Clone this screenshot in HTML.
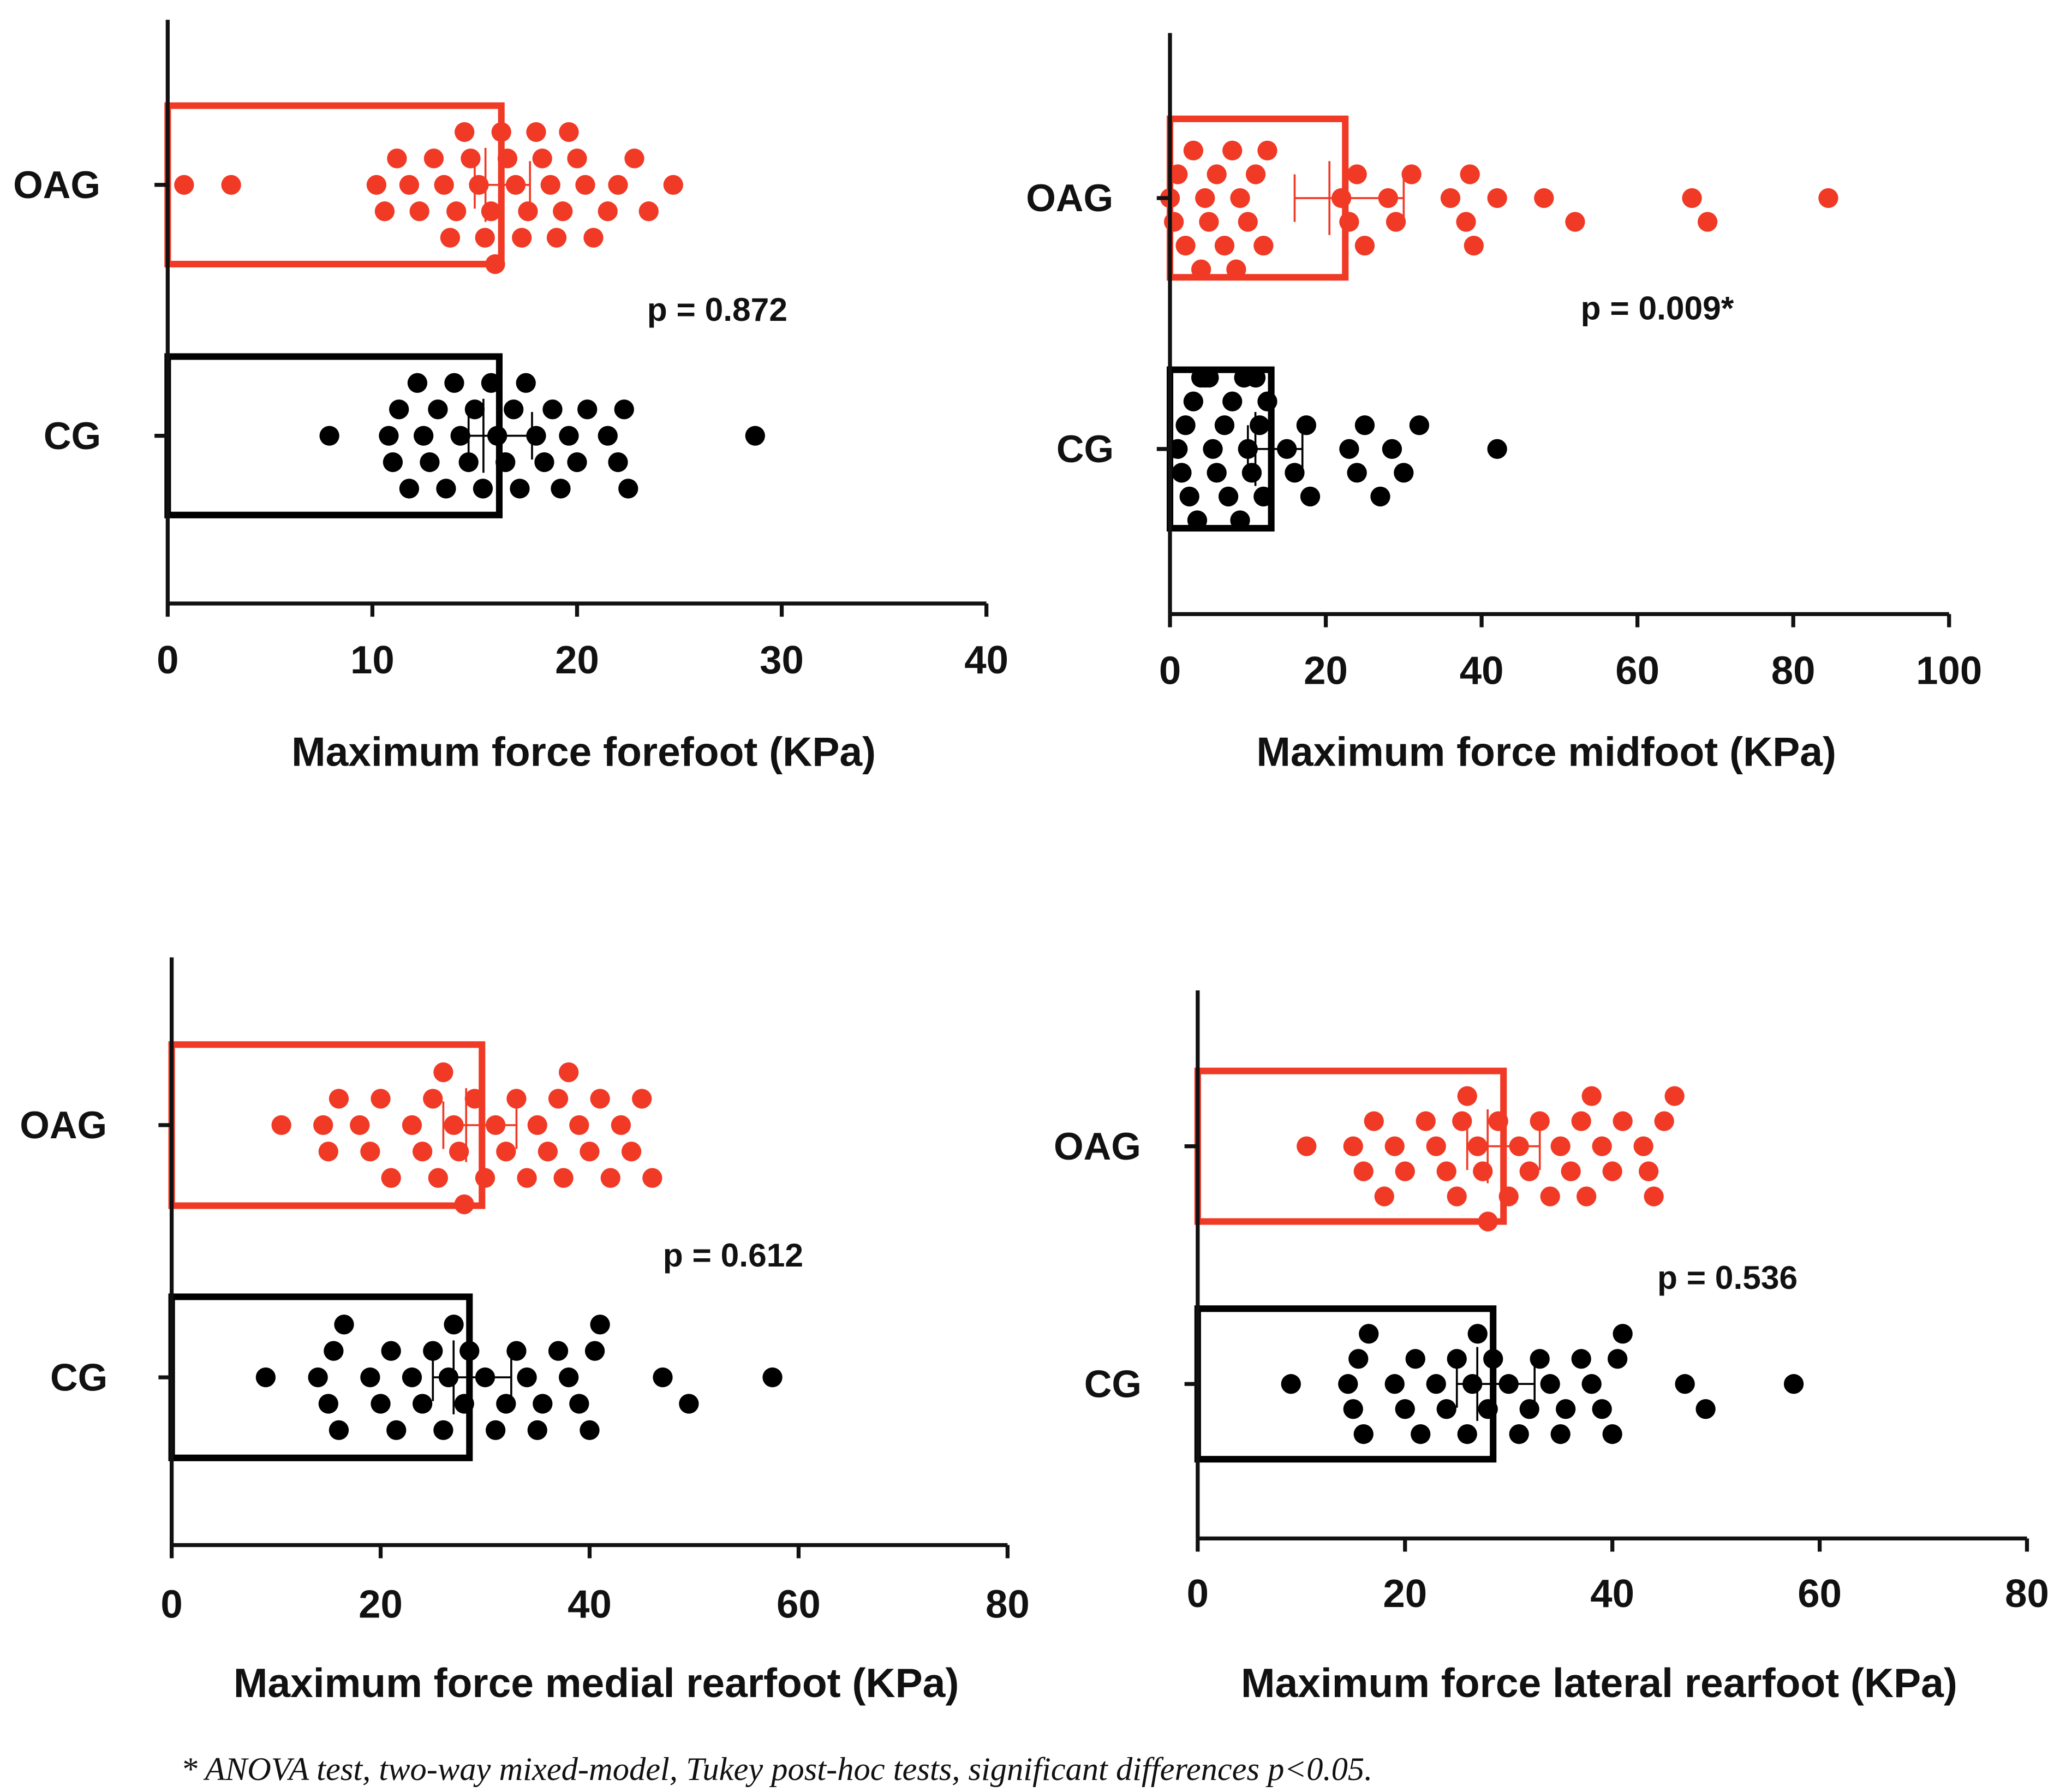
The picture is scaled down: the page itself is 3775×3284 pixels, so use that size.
<!DOCTYPE html>
<html><head><meta charset="utf-8"><style>
html,body{margin:0;padding:0;background:#fff}
svg{display:block}
text{font-family:"Liberation Sans",Arial,sans-serif;font-weight:bold;fill:#111}
</style></head><body>
<svg id="chart" width="3775" height="3284" viewBox="0 0 1560 1357" preserveAspectRatio="none" xmlns="http://www.w3.org/2000/svg">
<text x="137" y="1348" style="font-family:'Liberation Serif',serif;font-style:italic;font-weight:normal;font-size:25px">* ANOVA test, two-way mixed-model, Tukey post-hoc tests, significant differences p&lt;0.05.</text>
</svg>
<script>
// ---- data ----
const categories = ["OAG","CG"];
const titles = ["Maximum force forefoot (KPa)","Maximum force midfoot (KPa)","Maximum force medial rearfoot (KPa)","Maximum force lateral rearfoot (KPa)"];
const pLabels = ["p = 0.872","p = 0.009*","p = 0.612","p = 0.536"];
const xTicks1 = [0,10,20,30,40];
const xTicks2 = [0,20,40,60,80,100];
const xTicks3 = [0,20,40,60,80];
const xTicks4 = [0,20,40,60,80];
const means1 = [16.3,16.2], err1 = [[15,17.7],[14.7,17.8]];
const means2 = [22.5,13], err2 = [[16,30],[10,17]];
const means3 = [29.7,28.5], err3 = [[26,33],[25,32.5]];
const means4 = [29.5,28.5], err4 = [[26,33],[25,32.5]];
const oag1 = [0.8,3.1,10.2,10.6,11.2,11.8,12.3,13,13.5,13.8,14.1,14.5,14.8,15.2,15.5,15.8,16,16.3,16.6,17,17.3,17.6,18,18.3,18.7,19,19.3,19.6,20,20.4,20.8,21.5,22,22.8,23.5,24.7];
const cg1 = [7.9,10.8,11,11.3,11.8,12.2,12.5,12.8,13.2,13.6,14,14.3,14.7,15,15.4,15.8,16.1,16.5,16.9,17.2,17.5,18,18.4,18.8,19.2,19.6,20,20.5,21.5,22,22.3,22.5,28.7];
const oag2 = [0,0.5,1,2,3,4,4.5,5,6,7,8,8.5,9,10,11,12,12.5,22,23,24,25,28,29,31,36,38,38.5,39,42,48,52,67,69,84.5];
const cg2 = [1,1.5,2,2.5,3,3.5,4,4.5,5,5.5,6,7,7.5,8,9,9.5,10,10.5,11,11.5,12,12.5,15,16,17.5,18,23,24,25,27,28.5,30,32,42];
const oag3 = [10.5,14.5,15,16,18,19,20,21,23,24,25,25.5,26,27,27.5,28,29,30,31,32,33,34,35,36,37,37.5,38,39,40,41,42,43,44,45,46];
const cg3 = [9,14,15,15.5,16,16.5,19,20,21,21.5,23,24,25,26,26.5,27,28,28.5,30,31,32,33,34,35,35.5,37,38,39,40,40.5,41,47,49.5,57.5];
const oag4 = [10.5,15,16,17,18,19,20,22,23,24,25,25.5,26,27,27.5,28,29,30,31,32,33,34,35,36,37,37.5,38,39,40,41,43,43.5,44,45,46];
const cg4 = [9,14.5,15,15.5,16,16.5,19,20,21,21.5,23,24,25,26,26.5,27,28,28.5,30,31,32,33,34,35,35.5,37,38,39,40,40.5,41,47,49,57.5];

const NS="http://www.w3.org/2000/svg";
const svg=document.getElementById('chart');
function mk(tag,attrs,parent){const e=document.createElementNS(NS,tag);for(const k in attrs)e.setAttribute(k,attrs[k]);(parent||svg).appendChild(e);return e;}

const panels=[
 {x0:127,x1:747,max:40,top:15,base:457,rows:[140,330],half:60,step:20,ticks:xTicks1,means:means1,err:err1,data:[oag1,cg1],p:[490,243],tickY:510,titleY:580,labX:[10,33]},
 {x0:886,x1:1476,max:100,top:25,base:465,rows:[150,340],half:60,step:18,ticks:xTicks2,means:means2,err:err2,data:[oag2,cg2],p:[1197,242],tickY:518,titleY:580,labX:[777,800]},
 {x0:130,x1:763,max:80,top:725,base:1170,rows:[852,1043],half:61,step:20,ticks:xTicks3,means:means3,err:err3,data:[oag3,cg3],p:[502,959],tickY:1225,titleY:1285,labX:[15,38]},
 {x0:907,x1:1535,max:80,top:750,base:1165,rows:[868,1048],half:57,step:19,ticks:xTicks4,means:means4,err:err4,data:[oag4,cg4],p:[1255,976],tickY:1217,titleY:1285,labX:[798,821]}
];
const colors=["#f03a26","#000"];
panels.forEach((P,pi)=>{
 const g=mk('g',{});
 
 
 const sx=v=>P.x0+(P.x1-P.x0)*v/P.max;
 P.rows.forEach((cy,ri)=>{
  const b=mk('rect',{x:P.x0,y:cy-P.half,width:sx(P.means[ri])-P.x0,height:2*P.half,fill:'none',stroke:colors[ri],'stroke-width':5},g);
  
  
  const vals=P.data[ri].slice().sort((a,b)=>a-b);const placed=[];const step=P.step;
  vals.forEach(v=>{
   const x=sx(v);let off=0;
   const order=[0,1,-1,2,-2,3,-3];
   for(const o of order){if(!placed.some(p=>p.o===o&&Math.abs(p.x-x)<24)){off=o;break;}off=o;}
   placed.push({x,o:off});
   const c=mk('circle',{cx:x,cy:cy+off*step,r:7.5,fill:colors[ri]},g);
   
   
  });
  const e=P.err[ri];
  mk('line',{x1:sx(e[0]),x2:sx(e[1]),y1:cy,y2:cy,stroke:colors[ri],'stroke-width':1.5},g);
  mk('line',{x1:sx(e[0]),x2:sx(e[0]),y1:cy-18,y2:cy+18,stroke:colors[ri],'stroke-width':1.5},g);
  mk('line',{x1:sx(e[1]),x2:sx(e[1]),y1:cy-18,y2:cy+18,stroke:colors[ri],'stroke-width':1.5},g);
  mk('line',{x1:sx(P.means[ri])-12,x2:sx(P.means[ri])-12,y1:cy-28,y2:cy+28,stroke:colors[ri],'stroke-width':1.5},g);
  mk('line',{x1:P.x0-10,x2:P.x0,y1:cy,y2:cy,stroke:'#111','stroke-width':3},g);
  const t=mk('text',{x:P.labX[ri],y:cy+10,'font-size':29},g);t.textContent=categories[ri];
  
  
 });
 mk('line',{x1:P.x0,x2:P.x0,y1:P.top,y2:P.base,stroke:'#111','stroke-width':3},g);
 mk('line',{x1:P.x0,x2:P.x1,y1:P.base,y2:P.base,stroke:'#111','stroke-width':3},g);
 P.ticks.forEach(tv=>{
  const x=sx(tv);
  mk('line',{x1:x,x2:x,y1:P.base,y2:P.base+10,stroke:'#111','stroke-width':3},g);
  const t=mk('text',{x:x,y:P.tickY,'font-size':30,'text-anchor':'middle'},g);t.textContent=tv;
  
  
 });
 const tt=mk('text',{x:(P.x0+P.x1)/2+(pi%2?-10:5),y:P.titleY,'font-size':31,'text-anchor':'middle'},g);tt.textContent=titles[pi];
 
 
 const pt=mk('text',{x:P.p[0],y:P.p[1],'font-size':25},g);pt.textContent=pLabels[pi];
 
 
});
</script>
</body></html>
